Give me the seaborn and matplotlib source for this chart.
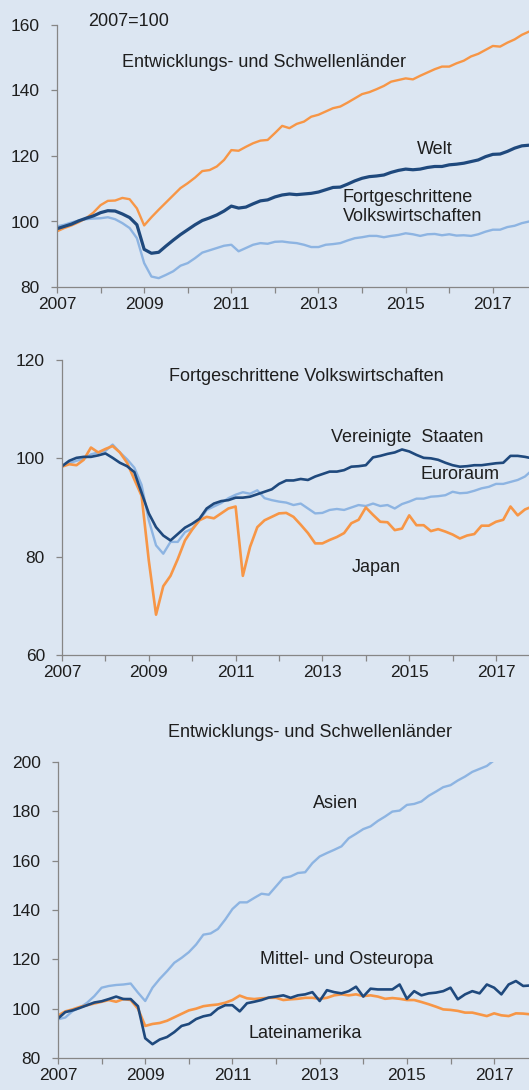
"""
Industrieproduktion: Welt, fortgeschrittene Volkswirtschaften,
Entwicklungs- und Schwellenländer (2007=100).
"""

import numpy as np
import pandas as pd
import matplotlib
matplotlib.use('Agg')
import matplotlib.pyplot as plt
import seaborn as sns

HINTERGRUND = '#dce6f2'
ORANGE = '#f79646'
DUNKELBLAU = '#1f497d'
HELLBLAU = '#8db4e2'
ACHSE = '#868686'
TEXT = '#1e1e1e'

# Werte alle zwei Monate, Januar 2007 bis November 2017

# Panel 1
welt = [97.8, 98.5, 99.2, 100.2, 101.0, 101.7,
        102.7, 103.3, 103.2, 102.3, 101.2, 99.0,
        91.5, 90.3, 90.6, 92.5, 94.3, 96.0,
        97.5, 99.0, 100.3, 101.1, 102.0, 103.2,
        104.7, 104.1, 104.4, 105.4, 106.3, 106.6,
        107.5, 108.1, 108.4, 108.2, 108.4, 108.6,
        109.0, 109.7, 110.4, 110.5, 111.4, 112.4,
        113.2, 113.7, 113.9, 114.2, 115.0, 115.6,
        116.0, 115.8, 116.0, 116.5, 116.8, 116.8,
        117.3, 117.5, 117.8, 118.3, 118.8, 119.8,
        120.5, 120.6, 121.4, 122.4, 123.1, 123.3]
entwicklung = [97.0, 98.0, 98.8, 99.8, 101.0, 102.7,
               105.0, 106.3, 106.4, 107.2, 106.8, 104.0,
               98.8, 101.3, 103.6, 105.8, 108.0, 110.2,
               111.7, 113.4, 115.4, 115.7, 116.8, 118.8,
               121.8, 121.6, 122.8, 123.9, 124.7, 124.9,
               127.0, 129.2, 128.5, 129.8, 130.5, 132.0,
               132.6, 133.6, 134.6, 135.1, 136.3, 137.6,
               138.9, 139.5, 140.4, 141.4, 142.7, 143.2,
               143.7, 143.4, 144.5, 145.5, 146.5, 147.3,
               147.3, 148.3, 149.1, 150.4, 151.2, 152.4,
               153.6, 153.4, 154.6, 155.6, 157.0, 158.0]
fortgeschritten = [98.5, 99.0, 99.7, 100.3, 100.7, 100.9,
                   101.0, 101.3, 100.7, 99.5, 98.0, 94.9,
                   87.3, 83.2, 82.7, 83.7, 84.8, 86.5,
                   87.3, 88.8, 90.5, 91.2, 91.9, 92.6,
                   92.9, 90.9, 91.9, 92.9, 93.4, 93.2,
                   93.8, 93.9, 93.6, 93.4, 92.9, 92.2,
                   92.2, 92.9, 93.1, 93.4, 94.2, 94.9,
                   95.2, 95.6, 95.6, 95.2, 95.6, 95.9,
                   96.4, 96.1, 95.6, 96.1, 96.2, 95.8,
                   96.1, 95.7, 95.8, 95.6, 96.1, 96.9,
                   97.5, 97.5, 98.3, 98.7, 99.5, 100.0]

# Panel 2
usa = [98.4, 99.5, 100.1, 100.3, 100.3, 100.6,
       101.0, 100.1, 99.1, 98.4, 97.2, 93.0,
       88.8, 86.0, 84.3, 83.3, 84.6, 85.9,
       86.7, 87.7, 89.8, 90.8, 91.3, 91.5,
       92.0, 92.0, 92.2, 92.7, 93.2, 93.7,
       94.8, 95.5, 95.5, 95.8, 95.6, 96.3,
       96.8, 97.3, 97.3, 97.6, 98.3, 98.4,
       98.6, 100.2, 100.5, 100.9, 101.2, 101.8,
       101.4, 100.7, 100.1, 100.0, 99.7, 99.1,
       98.6, 98.3, 98.4, 98.6, 98.6, 98.8,
       99.0, 99.1, 100.5, 100.5, 100.3, 100.0]
euroraum = [98.4, 99.0, 99.5, 99.9, 100.8, 101.2,
            101.5, 102.8, 101.2, 99.8, 98.1, 94.6,
            87.4, 82.3, 80.6, 83.0, 83.0, 85.0,
            85.7, 87.4, 89.5, 90.2, 90.9, 91.9,
            92.6, 93.1, 92.8, 93.5, 91.9, 91.5,
            91.2, 91.0, 90.5, 90.8, 89.8, 88.8,
            88.9, 89.5, 89.7, 89.5, 90.0, 90.5,
            90.3, 90.8, 90.3, 90.5, 89.8, 90.7,
            91.2, 91.8, 91.8, 92.2, 92.3, 92.5,
            93.2, 92.9, 93.0, 93.4, 93.9, 94.2,
            94.8, 94.8, 95.2, 95.6, 96.3, 97.6]
japan = [98.3, 98.8, 98.6, 99.7, 102.2, 101.2,
         101.9, 102.5, 101.2, 99.1, 95.7, 92.4,
         79.2, 68.2, 74.0, 76.1, 79.5, 83.3,
         85.5, 87.4, 88.1, 87.8, 88.8, 89.8,
         90.2, 76.1, 82.0, 86.0, 87.4, 88.1,
         88.8, 88.9, 88.1, 86.5, 84.8, 82.7,
         82.7, 83.4, 84.0, 84.8, 86.8, 87.5,
         90.0, 88.5, 87.1, 87.0, 85.4, 85.7,
         88.4, 86.4, 86.4, 85.2, 85.6, 85.1,
         84.5, 83.7, 84.3, 84.6, 86.3, 86.3,
         87.1, 87.5, 90.2, 88.4, 89.6, 90.2]

# Panel 3
asien = [95.7, 96.4, 99.0, 100.4, 102.4, 105.1,
         108.5, 109.2, 109.6, 109.8, 110.2, 106.5,
         103.1, 108.5, 112.1, 115.2, 118.6, 120.6,
         122.9, 126.0, 130.0, 130.5, 132.3, 136.1,
         140.4, 143.1, 143.1, 144.9, 146.6, 146.2,
         149.6, 153.0, 153.6, 155.0, 155.3, 159.0,
         161.7, 163.1, 164.4, 165.8, 169.1, 170.9,
         172.8, 173.9, 176.1, 177.9, 179.9, 180.3,
         182.6, 183.0, 184.0, 186.3, 188.0, 189.8,
         190.6, 192.5, 194.1, 196.0, 197.2, 198.4,
         200.7, 203.0, 204.5, 206.0, 208.0, 209.0]
mittel_osteuropa = [96.0, 98.6, 99.3, 100.3, 101.4, 102.5,
                    103.0, 103.9, 104.9, 103.9, 103.9, 101.0,
                    88.0, 85.6, 87.5, 88.5, 90.5, 93.0,
                    93.8, 95.8, 96.9, 97.5, 100.0, 101.4,
                    101.4, 98.9, 102.2, 102.8, 103.5, 104.5,
                    104.9, 105.4, 104.4, 105.4, 105.8, 106.7,
                    103.1, 107.5, 106.7, 106.2, 107.1, 108.9,
                    104.9, 108.1, 107.8, 107.8, 107.8, 109.8,
                    104.0, 107.1, 105.4, 106.2, 106.5, 107.1,
                    108.5, 103.8, 105.8, 107.1, 106.2, 109.8,
                    108.5, 105.8, 109.8, 111.2, 109.2, 109.4]
lateinamerika = [97.2, 98.9, 99.7, 100.7, 101.4, 102.1,
                 102.8, 103.5, 102.8, 103.9, 103.5, 100.0,
                 93.0, 93.8, 94.2, 95.1, 96.5, 97.9,
                 99.3, 100.0, 101.0, 101.4, 101.7, 102.4,
                 103.5, 105.3, 104.2, 103.9, 104.2, 104.4,
                 104.4, 103.5, 103.8, 104.0, 104.4, 104.4,
                 104.0, 104.4, 105.4, 105.8, 105.4, 105.8,
                 105.1, 105.4, 104.9, 104.0, 104.3, 104.0,
                 103.5, 103.5, 102.7, 101.8, 100.8, 99.7,
                 99.5, 99.1, 98.4, 98.4, 97.7, 97.0,
                 98.1, 97.3, 97.0, 98.1, 98.0, 97.7]

jahre = list(range(2007, 2018))
jahr_labels = [str(j) if j % 2 == 1 else '' for j in jahre]


def configurar_estilo():
    sns.set_style('ticks', {'axes.facecolor': HINTERGRUND,
                            'figure.facecolor': HINTERGRUND,
                            'axes.edgecolor': ACHSE,
                            'xtick.color': ACHSE,
                            'ytick.color': ACHSE})
    plt.rcParams['font.family'] = ['Liberation Sans', 'DejaVu Sans']
    plt.rcParams['font.size'] = 13


def linie(ax, werte, farbe, lw):
    df = pd.DataFrame({'jahr': 2007 + np.arange(len(werte)) / 6,
                       'wert': werte})
    sns.lineplot(data=df, x='jahr', y='wert', color=farbe,
                 linewidth=lw, ax=ax)


def achsen(ax, yticks, xmax):
    ax.set_xlim(2007, xmax)
    ax.set_ylim(yticks[0], yticks[-1])
    ax.set_xticks(jahre)
    ax.set_xticklabels(jahr_labels)
    ax.set_yticks(yticks)
    ax.set_xlabel('')
    ax.set_ylabel('')
    for seite in ['top', 'right']:
        ax.spines[seite].set_visible(False)
    for seite in ['left', 'bottom']:
        ax.spines[seite].set_linewidth(0.9)
        ax.spines[seite].set_color(ACHSE)
    ax.tick_params(axis='both', direction='out', length=4.3, width=0.9,
                   labelsize=12.5, labelcolor=TEXT)
    ax.tick_params(axis='y', pad=8)
    ax.tick_params(axis='x', pad=3)


configurar_estilo()
fig = plt.figure(figsize=(5.29, 10.9), dpi=100)

# Panel 1: Welt
ax1 = fig.add_axes([57 / 529, 1 - 287 / 1090, 472 / 529, 262 / 1090])
linie(ax1, fortgeschritten, HELLBLAU, 1.7)
linie(ax1, entwicklung, ORANGE, 1.7)
linie(ax1, welt, DUNKELBLAU, 2.3)
achsen(ax1, [80, 100, 120, 140, 160], 2017.83)
ax1.text(2007.71, 161.2, '2007=100', color=TEXT, va='center', ha='left')
ax1.text(2008.49, 148.4, 'Entwicklungs- und Schwellenländer', color=TEXT,
         va='center', ha='left')
ax1.text(2015.26, 122.1, 'Welt', color=TEXT, va='center', ha='left')
ax1.text(2013.56, 104.3, 'Fortgeschrittene\nVolkswirtschaften', color=TEXT,
         va='center', ha='left', linespacing=1.15)

# Panel 2: Fortgeschrittene Volkswirtschaften
ax2 = fig.add_axes([62 / 529, 1 - 655 / 1090, 467 / 529, 295 / 1090])
linie(ax2, euroraum, HELLBLAU, 1.7)
linie(ax2, japan, ORANGE, 1.9)
linie(ax2, usa, DUNKELBLAU, 1.9)
achsen(ax2, [60, 80, 100, 120], 2017.76)
ax2.text(2012.62, 116.7, 'Fortgeschrittene Volkswirtschaften', color=TEXT,
         va='center', ha='center')
ax2.text(2013.2, 104.3, 'Vereinigte  Staaten', color=TEXT,
         va='center', ha='left')
ax2.text(2015.25, 96.8, 'Euroraum', color=TEXT, va='center', ha='left')
ax2.text(2013.68, 77.7, 'Japan', color=TEXT, va='center', ha='left')

# Panel 3: Entwicklungs- und Schwellenländer
ax3 = fig.add_axes([58 / 529, 1 - 1058 / 1090, 471 / 529, 296 / 1090])
linie(ax3, asien, HELLBLAU, 1.7)
linie(ax3, lateinamerika, ORANGE, 1.9)
linie(ax3, mittel_osteuropa, DUNKELBLAU, 1.9)
achsen(ax3, [80, 100, 120, 140, 160, 180, 200], 2017.80)
ax3.text(2012.78, 211.8, 'Entwicklungs- und Schwellenländer', color=TEXT,
         va='center', ha='center')
ax3.text(2012.85, 183, 'Asien', color=TEXT, va='center', ha='left')
ax3.text(2011.63, 120.1, 'Mittel- und Osteuropa', color=TEXT,
         va='center', ha='left')
ax3.text(2011.36, 90.1, 'Lateinamerika', color=TEXT, va='center', ha='left')

fig.savefig('out.png', dpi=100, facecolor=HINTERGRUND)
